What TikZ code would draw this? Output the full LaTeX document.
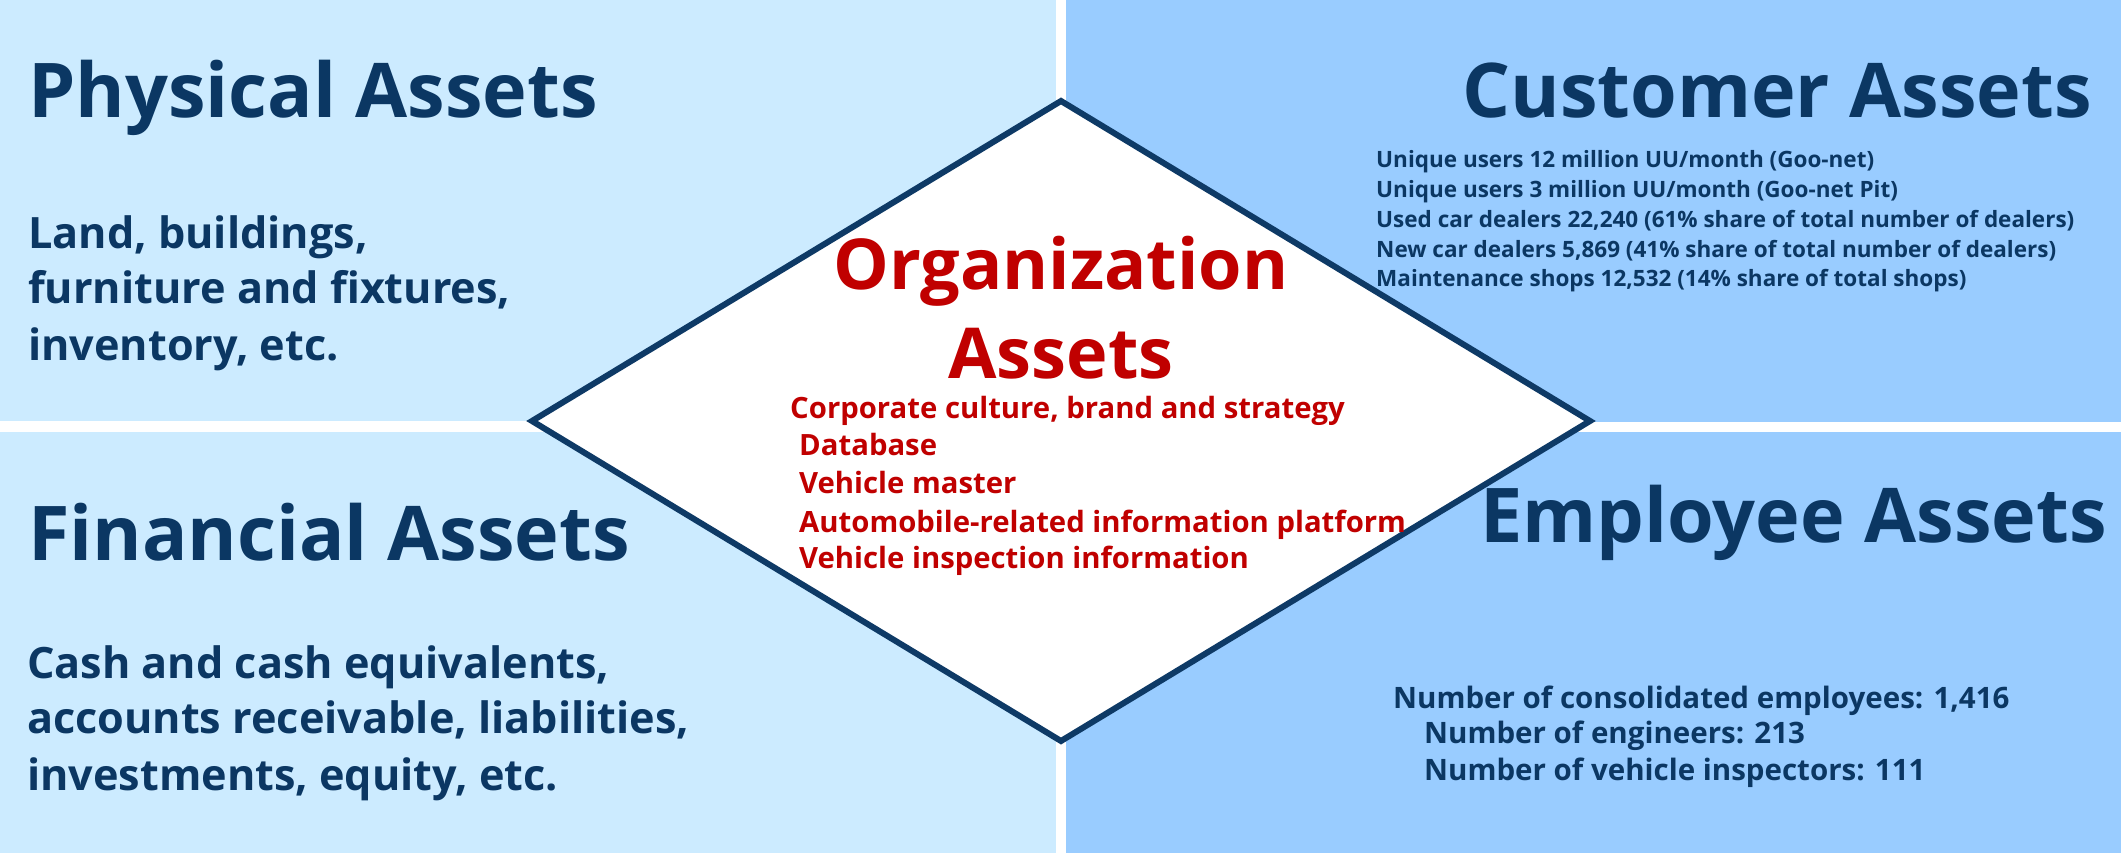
\documentclass[tikz,border=0pt]{standalone}
\usepackage{fontspec}
\setmainfont{Open Sans}
\definecolor{navy}{HTML}{0B3763}
\definecolor{lightb}{HTML}{CCEBFF}
\definecolor{midb}{HTML}{99CCFF}
\definecolor{orgred}{HTML}{C00000}
\definecolor{dline}{HTML}{0E3A66}
\tikzset{
  head/.style={font=\fontsize{75.5}{90}\selectfont\bfseries, text=navy, inner sep=0pt},
  bodyl/.style={font=\fontsize{43.2}{56}\selectfont\bfseries, text=navy, inner sep=0pt, anchor=base west},
  custl/.style={font=\fontsize{22.5}{30}\selectfont\bfseries, text=navy, inner sep=0pt, anchor=base west},
  empl/.style={font=\fontsize{29.5}{36}\selectfont\bfseries, text=navy, inner sep=0pt, anchor=base west},
  orghead/.style={font=\fontsize{70.2}{90}\selectfont\bfseries, text=orgred, inner sep=0pt, anchor=base},
  orgl/.style={font=\fontsize{29.3}{36}\selectfont\bfseries, text=orgred, inner sep=0pt, anchor=base west},
}
\begin{document}
\begin{tikzpicture}[x=1pt,y=-1pt]
\useasboundingbox (0,0) rectangle (2121,853);
\fill[white] (0,0) rectangle (2121,853);
% panels
\fill[lightb] (0,0) rectangle (1056,421);
\fill[midb] (1066,0) rectangle (2121,422);
\fill[lightb] (0,432) rectangle (1056,853);
\fill[midb] (1066,432) rectangle (2121,853);
% diamond
\coordinate (dl) at (532,421);
\coordinate (dt) at (1061,101);
\coordinate (dr) at (1590,421);
\coordinate (db) at (1061,741);
\filldraw[fill=white, draw=dline, line width=6pt, line join=miter] (dl) -- (dt) -- (dr) -- (db) -- cycle;
% physical
\node[head, anchor=base west] (phys) at (28,118) {Physical Assets};
\node[bodyl] (phys1) at (28,248) {Land, buildings,};
\node[bodyl] (phys2) at (28,303) {furniture and fixtures,};
\node[bodyl] (phys3) at (28,360) {inventory, etc.};
% financial
\node[head, anchor=base west] (fin) at (28,560) {Financial Assets};
\node[bodyl] (fin1) at (27,678) {Cash and cash equivalents,};
\node[bodyl] (fin2) at (27,733) {accounts receivable, liabilities,};
\node[bodyl] (fin3) at (27,790) {investments, equity, etc.};
% customer
\node[head, anchor=base east] (cust) at (2092,118) {Customer Assets};
\node[custl] (cust1) at (1376,168) {Unique users 12 million UU/month (Goo-net)};
\node[custl] (cust2) at (1376,198) {Unique users 3 million UU/month (Goo-net Pit)};
\node[custl] (cust3) at (1376,228) {Used car dealers 22,240 (61\% share of total number of dealers)};
\node[custl] (cust4) at (1376,258) {New car dealers 5,869 (41\% share of total number of dealers)};
\node[custl] (cust5) at (1376,287) {Maintenance shops 12,532 (14\% share of total shops)};
% employee
\node[head, anchor=base east] (emp) at (2107,542) {Employee Assets};
\node[empl] (emp1) at (1393,708) {Number of consolidated employees: 1,416};
\node[empl] (emp2) at (1424,743) {Number of engineers: 213};
\node[empl] (emp3) at (1424,780) {Number of vehicle inspectors: 111};
% organization
\node[orghead] (org1) at (1061,289) {Organization};
\node[orghead] (org2) at (1061,378) {Assets};
\node[orgl] (orgl1) at (790,418) {Corporate culture, brand and strategy};
\node[orgl] (orgl2) at (799,455) {Database};
\node[orgl] (orgl3) at (799,493) {Vehicle master};
\node[orgl] (orgl4) at (799,532) {Automobile-related information platform};
\node[orgl] (orgl5) at (799,568) {Vehicle inspection information};
\end{tikzpicture}
\end{document}
